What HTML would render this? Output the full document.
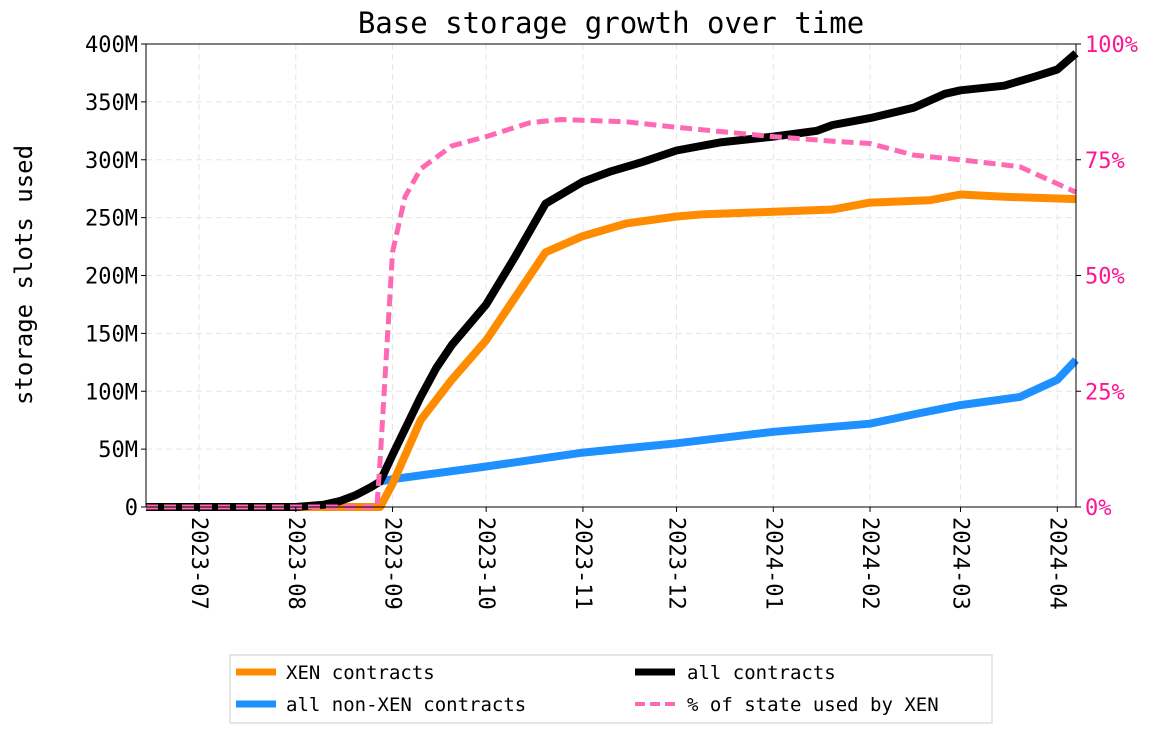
<!DOCTYPE html>
<html><head><meta charset="utf-8">
<style>
body{margin:0;background:#fff;}
svg text{font-family:"DejaVu Sans Mono","Liberation Mono",monospace;}
</style></head>
<body>
<svg id="chart" width="1155" height="734" xmlns="http://www.w3.org/2000/svg">
<rect width="1155" height="734" fill="#fff"/>
<g id="grid"></g>
<g id="series"></g>
<rect x="146" y="44" width="930" height="463" fill="none" stroke="#000" stroke-width="1"/>
<g id="axes"></g>
<text x="611" y="33" font-size="29" text-anchor="middle">Base storage growth over time</text>
<text transform="translate(32,275) rotate(-90)" font-size="24" text-anchor="middle">storage slots used</text>
<g>
<rect x="230" y="655" width="762" height="68" fill="#fff" stroke="#ccc"/>
<line x1="236" y1="672" x2="276" y2="672" stroke="#ff8c00" stroke-width="7"/>
<text x="286" y="679" font-size="19">XEN contracts</text>
<line x1="236" y1="704" x2="276" y2="704" stroke="#1e90ff" stroke-width="7"/>
<text x="286" y="711" font-size="19">all non-XEN contracts</text>
<line x1="635" y1="672" x2="675" y2="672" stroke="#000" stroke-width="7"/>
<text x="687" y="679" font-size="19">all contracts</text>
<line x1="635" y1="704" x2="675" y2="704" stroke="#ff69b4" stroke-width="4" stroke-dasharray="10,5"/>
<text x="687" y="711" font-size="19">% of state used by XEN</text>
</g>
</svg>
<script>
const totalDates=["2023-06-14","2023-08-01","2023-08-10","2023-08-15","2023-08-20","2023-08-25","2023-08-28","2023-09-01","2023-09-10","2023-09-15","2023-09-20","2023-10-01","2023-10-10","2023-10-20","2023-11-01","2023-11-10","2023-11-20","2023-12-01","2023-12-15","2024-01-01","2024-01-15","2024-01-20","2024-02-01","2024-02-15","2024-02-25","2024-03-01","2024-03-15","2024-03-25","2024-04-01","2024-04-07"];
const totalValues=[0,0,2,5,10,17,22,45,95,120,140,175,215,262,281,290,298,308,315,320,325,330,336,345,357,360,364,372,378,392];
const xenDates=["2023-06-14","2023-08-28","2023-09-01","2023-09-10","2023-09-20","2023-10-01","2023-10-10","2023-10-20","2023-11-01","2023-11-15","2023-12-01","2023-12-10","2024-01-01","2024-01-20","2024-02-01","2024-02-20","2024-03-01","2024-03-15","2024-04-07"];
const xenValues=[0,0,20,75,110,144,180,220,234,245,251,253,255,257,263,265,270,268,266];
const nonXenDates=["2023-08-28","2023-09-01","2023-10-01","2023-11-01","2023-12-01","2024-01-01","2024-02-01","2024-02-15","2024-03-01","2024-03-20","2024-04-01","2024-04-07"];
const nonXenValues=[22,24,35,47,55,65,72,80,88,95,110,127];
const pctDates=["2023-06-14","2023-08-27","2023-08-28","2023-09-01","2023-09-05","2023-09-10","2023-09-20","2023-10-01","2023-10-15","2023-10-25","2023-11-15","2023-12-01","2024-01-01","2024-01-20","2024-02-01","2024-02-15","2024-03-01","2024-03-20","2024-04-07"];
const pctValues=[0,0,10,55,67,73,78,80,83,83.7,83.2,82,80,79,78.5,76,75,73.5,68];
const xTicks=["2023-07","2023-08","2023-09","2023-10","2023-11","2023-12","2024-01","2024-02","2024-03","2024-04"];
const yTicks=[0,50,100,150,200,250,300,350,400];
const yTickLabels=["0","50M","100M","150M","200M","250M","300M","350M","400M"];
const pctTicks=[0,25,50,75,100];
const pctTickLabels=["0%","25%","50%","75%","100%"];

const NS="http://www.w3.org/2000/svg";
const X0=146,X1=1076,Y0=507,Y1=44;
const t0=Date.parse("2023-06-14"),t1=Date.parse("2024-04-07");
const x=d=>X0+(Date.parse(d.length===7?d+"-01":d)-t0)/(t1-t0)*(X1-X0);
const y=v=>Y0-v/400*(Y0-Y1);
const yp=v=>Y0-v/100*(Y0-Y1);
function mk(tag,attrs,parent){const e=document.createElementNS(NS,tag);for(const k in attrs)e.setAttribute(k,attrs[k]);parent.appendChild(e);return e;}
const grid=document.getElementById('grid'),axes=document.getElementById('axes'),ser=document.getElementById('series');
xTicks.forEach(d=>{const px=x(d);
 mk('line',{x1:px,x2:px,y1:Y1,y2:Y0,stroke:'#e5e5e5','stroke-dasharray':'6,4'},grid);
 mk('line',{x1:px,x2:px,y1:Y0,y2:Y0+5,stroke:'#000'},axes);
 const t=mk('text',{transform:`translate(${px-7},${Y0+10}) rotate(90)`,'font-size':22},axes);
 
 
 t.textContent=d;});
yTicks.forEach((v,i)=>{const py=y(v);
 mk('line',{x1:X0,x2:X1,y1:py,y2:py,stroke:'#e5e5e5','stroke-dasharray':'6,4'},grid);
 mk('line',{x1:X0-5,x2:X0,y1:py,y2:py,stroke:'#000'},axes);
 const t=mk('text',{x:X0-8,y:py+8,'font-size':22,'text-anchor':'end'},axes);
 
 
 t.textContent=yTickLabels[i];});
pctTicks.forEach((v,i)=>{const py=yp(v);
 mk('line',{x1:X1,x2:X1+5,y1:py,y2:py,stroke:'#000'},axes);
 const t=mk('text',{x:X1+9,y:py+8,'font-size':22,fill:'#ff1493'},axes);
 
 
 t.textContent=pctTickLabels[i];});
function line(dates,vals,fy,stroke,w,dash,name){
 const p=dates.map((d,i)=>x(d).toFixed(1)+','+fy(vals[i]).toFixed(1)).join(' ');
 const e=mk('polyline',{points:p,fill:'none',stroke:stroke,'stroke-width':w,'stroke-linejoin':'round'},ser);
 if(dash)e.setAttribute('stroke-dasharray',dash);
 
 }
line(nonXenDates,nonXenValues,y,'#1e90ff',8,null,'non-xen-line');
line(xenDates,xenValues,y,'#ff8c00',8,null,'xen-line');
line(totalDates,totalValues,y,'#000',8,null,'all-contracts-line');
line(pctDates,pctValues,yp,'#ff69b4',5,'12,6','xen-pct-line');
</script>
</body></html>
